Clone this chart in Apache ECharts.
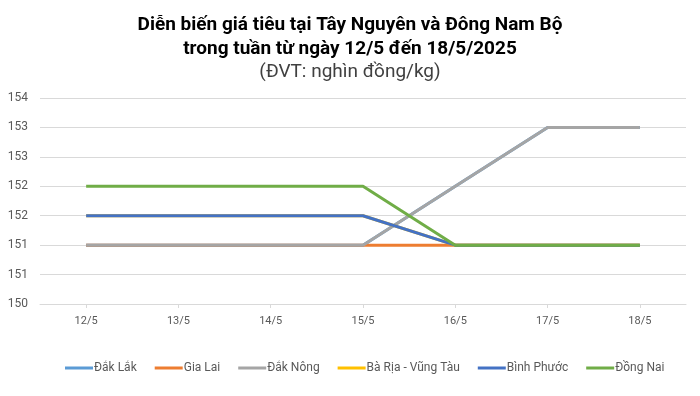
<!DOCTYPE html>
<html><head><meta charset="utf-8">
<script src="https://cdn.jsdelivr.net/npm/echarts@6/dist/echarts.min.js"></script>
<style>html,body{margin:0;padding:0;background:#fff}#c{width:700px;height:396px}</style>
</head><body><div id="c"></div>
<script>
const categories = ['12/5','13/5','14/5','15/5','16/5','17/5','18/5'];
const dakLak = [151,151,151,151,152,153,153];
const giaLai = [151,151,151,151,151,151,151];
const dakNong = [151,151,151,151,152,153,153];
const baRiaVungTau = [151.5,151.5,151.5,151.5,151,151,151];
const binhPhuoc = [151.5,151.5,151.5,151.5,151,151,151];
const dongNai = [152,152,152,152,151,151,151];
const seriesNames = ['Đắk Lắk','Gia Lai','Đắk Nông','Bà Rịa - Vũng Tàu','Bình Phước','Đồng Nai'];
const seriesData = [dakLak, giaLai, dakNong, baRiaVungTau, binhPhuoc, dongNai];
const colors = ['#5B9BD5','#ED7D31','#A5A5A5','#FFC000','#4472C4','#70AD47'];

const chart = echarts.init(document.getElementById('c'));
chart.setOption({
  animation: false,
  color: colors,
  title: {
    text: 'Diễn biến giá tiêu tại Tây Nguyên và Đông Nam Bộ\ntrong tuần từ ngày 12/5 đến 18/5/2025',
    subtext: '(ĐVT: nghìn đồng/kg)',
    left: 'center', top: 8, itemGap: 0,
    textStyle: {fontFamily: 'Roboto', fontWeight: 'bold', fontSize: 19, color: '#000', lineHeight: 24},
    subtextStyle: {fontFamily: 'Roboto', fontSize: 19, color: '#404040', lineHeight: 22}
  },
  legend: {
    data: seriesNames, top: 357, left: 60,
    icon: 'rect', itemWidth: 28, itemHeight: 3, itemGap: 18,
    textStyle: {fontFamily: 'Roboto', fontSize: 12, color: '#595959', padding: [0,0,0,-4]}
  },
  grid: {left: 40, right: 14, top: 98, bottom: 92, containLabel: false},
  xAxis: {
    type: 'category', data: categories, boundaryGap: true,
    axisLine: {lineStyle: {color: '#D9D9D9'}},
    axisTick: {show: true, alignWithLabel: true, length: 4, lineStyle: {color: '#D9D9D9'}},
    axisLabel: {fontFamily: 'Roboto', fontSize: 11, color: '#595959', margin: 12}
  },
  yAxis: {
    type: 'value', min: 150, max: 153.5, interval: 0.5,
    axisLine: {show: false}, axisTick: {show: false},
    splitLine: {lineStyle: {color: '#D9D9D9'}},
    axisLabel: {fontFamily: 'Roboto', fontSize: 12, color: '#595959', margin: 12,
      formatter: v => String(Math.round(v))}
  },
  series: seriesData.map((d, i) => ({
    name: seriesNames[i], type: 'line', data: d, symbol: 'none',
    lineStyle: {width: 3, color: colors[i]}
  }))
});
</script></body></html>
